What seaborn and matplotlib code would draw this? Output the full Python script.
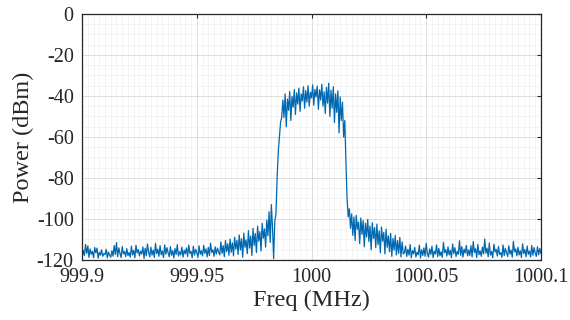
import numpy as np
import pandas as pd
import matplotlib
matplotlib.use('Agg')
import matplotlib.pyplot as plt
from matplotlib.ticker import MultipleLocator, FuncFormatter
import seaborn as sns

# spectrum, 401 bins of 0.5 kHz from 999.9 to 1000.1 MHz
f_start = 999.9
f_step = 0.0005

floor_left = [-118.5, -115.2, -117.9, -112.4, -116.8, -113.1, -118.7, -114.6, -117.2, -115.8,
              -118.9, -113.9, -116.5, -114.2, -119.1, -116.3, -117.6, -115.0, -118.2, -116.9,
              -117.4, -114.8, -119.0, -116.1, -117.7, -118.6, -115.5, -118.1, -112.9, -117.3,
              -111.5, -118.4, -114.1, -116.7, -118.8, -113.4, -117.0, -115.9, -118.3, -114.5,
              -117.8, -116.4, -118.6, -113.2, -117.5, -115.3, -118.9, -112.8, -116.6, -114.9,
              -118.0, -115.7, -117.1, -113.6, -119.2, -114.3, -117.9, -112.2, -116.2, -118.5,
              -113.8, -117.6, -115.1, -118.7, -111.9, -116.9, -114.7, -118.2, -113.0, -117.4,
              -115.6, -118.8, -112.6, -117.2, -114.0, -116.5, -118.4, -113.5, -117.7, -115.4,
              -119.0, -114.4, -117.3, -112.5, -118.1, -116.0, -117.5, -113.7, -118.6, -115.2,
              -117.0, -114.1, -118.3, -112.7, -116.8, -115.8, -118.9, -113.3, -117.6, -114.8,
              -116.4, -118.7, -113.1, -117.2, -115.5, -118.0, -112.9, -116.7, -114.6, -118.5,
              -113.9, -117.8, -111.8, -116.3, -115.0, -118.2, -113.6, -117.1, -114.2, -116.0]

skirt_left = [-117.5, -111.2, -116.8, -113.0, -118.4, -110.5, -115.9, -112.1, -117.7, -109.8,
              -116.2, -111.6, -118.0, -108.9, -114.7, -110.4, -117.3, -107.8, -115.1, -109.6,
              -118.6, -106.9, -113.8, -110.2, -116.9, -105.7, -114.2, -108.3, -117.8, -104.6,
              -112.9, -107.1, -116.4, -103.5, -110.8, -106.2, -115.6, -102.1, -109.4, -104.8,
              -113.7, -100.5, -108.2, -96.5, -111.4, -93.0, -104.0, -119.4]

rise = [-101.0, -97.5, -80.0, -67.5, -60.0, -53.0, -50.5]

band = [-42.0, -50.5, -39.0, -55.0, -41.5, -47.0, -37.8, -52.0, -40.2, -45.5,
        -36.9, -49.0, -38.5, -44.0, -36.2, -47.5, -39.0, -42.5, -35.5, -46.0,
        -37.4, -43.0, -35.0, -45.0, -38.2, -41.0, -34.6, -44.5, -36.8, -40.5,
        -35.2, -46.5, -37.0, -42.0, -34.3, -45.0, -38.0, -48.5, -35.8, -43.5,
        -33.8, -50.0, -37.2, -46.0, -35.5, -53.0, -39.0, -48.0, -37.5, -58.0,
        -40.5, -52.0, -43.0, -60.0]

fall = [-52.0, -72.0, -90.0, -99.0]

skirt_right = [-95.0, -104.5, -97.5, -108.0, -99.0, -110.5, -98.2, -105.0, -101.5, -112.0,
               -99.5, -107.5, -100.8, -113.5, -102.0, -108.8, -100.2, -111.0, -103.5, -115.0,
               -101.8, -109.5, -104.2, -114.0, -102.5, -112.5, -105.8, -116.5, -103.9, -110.8,
               -106.5, -117.0, -105.0, -113.8, -108.2, -116.0, -107.0, -118.2, -109.5, -115.2,
               -108.0, -117.5, -110.5, -116.8, -109.0, -118.5, -111.2, -117.0]

floor_right = [-116.5, -113.2, -118.3, -114.8, -117.6, -112.5, -118.9, -115.4, -117.0, -113.9,
               -118.5, -116.2, -117.4, -112.8, -119.0, -115.0, -117.8, -114.1, -118.2, -111.9,
               -116.8, -118.6, -114.6, -117.3, -113.3, -118.8, -115.7, -117.1, -112.6, -118.4,
               -114.4, -117.9, -116.0, -118.7, -111.4, -116.4, -114.9, -118.1, -113.6, -117.5,
               -115.3, -118.9, -112.2, -116.9, -114.0, -118.3, -115.8, -117.2, -110.6, -117.7,
               -113.5, -118.6, -114.7, -116.6, -112.9, -118.0, -115.1, -117.8, -113.0, -118.5,
               -111.0, -116.3, -114.5, -118.8, -112.4, -117.4, -115.6, -118.2, -113.7, -117.0,
               -109.8, -116.7, -114.2, -118.4, -111.7, -117.6, -115.9, -118.9, -112.3, -116.1,
               -114.8, -118.1, -113.4, -117.3, -116.4, -118.7, -112.7, -117.9, -114.3, -116.5,
               -118.3, -113.1, -117.1, -115.2, -118.6, -110.9, -116.0, -114.6, -118.0, -113.8,
               -117.5, -115.5, -118.8, -112.1, -116.8, -114.9, -118.4, -113.2, -117.2, -115.7,
               -118.5, -112.9, -117.7, -114.0, -116.6, -118.2, -113.5, -117.4, -114.4, -116.9]

xticks = [999.9, 999.95, 1000, 1000.05, 1000.1]
yticks = [0, -20, -40, -60, -80, -100, -120]

power = floor_left + skirt_left + rise + band + fall + skirt_right + floor_right
freq = f_start + f_step * np.arange(len(power))
df = pd.DataFrame({'freq': freq, 'power': power})

sns.set_style("white")
plt.rcParams['font.family'] = ['Liberation Serif', 'DejaVu Serif']
plt.rcParams['axes.unicode_minus'] = False

fig = plt.figure(figsize=(5.7, 3.2), dpi=100)
ax = fig.add_axes([0.144, 0.1875, 0.805, 0.769])

sns.lineplot(data=df, x='freq', y='power', ax=ax, color='#0068B0',
             linewidth=0.9, estimator=None, sort=False)

ax.set_xlim(999.9, 1000.1)
ax.set_ylim(-120, 0)
ax.set_xticks(xticks)
ax.set_yticks(yticks)
ax.xaxis.set_minor_locator(MultipleLocator(0.0025))
ax.yaxis.set_minor_locator(MultipleLocator(5))
ax.xaxis.set_major_formatter(FuncFormatter(lambda v, p: '%g' % round(v, 4)))
ax.yaxis.set_major_formatter(FuncFormatter(lambda v, p: '%g' % v))

ax.grid(which='major', color='#dcdcdc', linewidth=0.7)
ax.grid(which='minor', color='#f2f2f2', linewidth=0.6)
ax.set_axisbelow(True)

for s in ax.spines.values():
    s.set_color('#262626')
    s.set_linewidth(0.9)
ax.tick_params(which='major', direction='in', length=3, width=0.8, color='#262626',
               top=True, right=True, labelsize=14.5, pad=6, labelcolor='#262626')
ax.tick_params(which='minor', length=0)

ax.set_xlabel('Freq (MHz)', fontsize=17.5, color='#262626', labelpad=2)
ax.set_ylabel('Power (dBm)', fontsize=17.5, color='#262626', labelpad=2)

plt.savefig('out.png', dpi=100)
plt.close()
